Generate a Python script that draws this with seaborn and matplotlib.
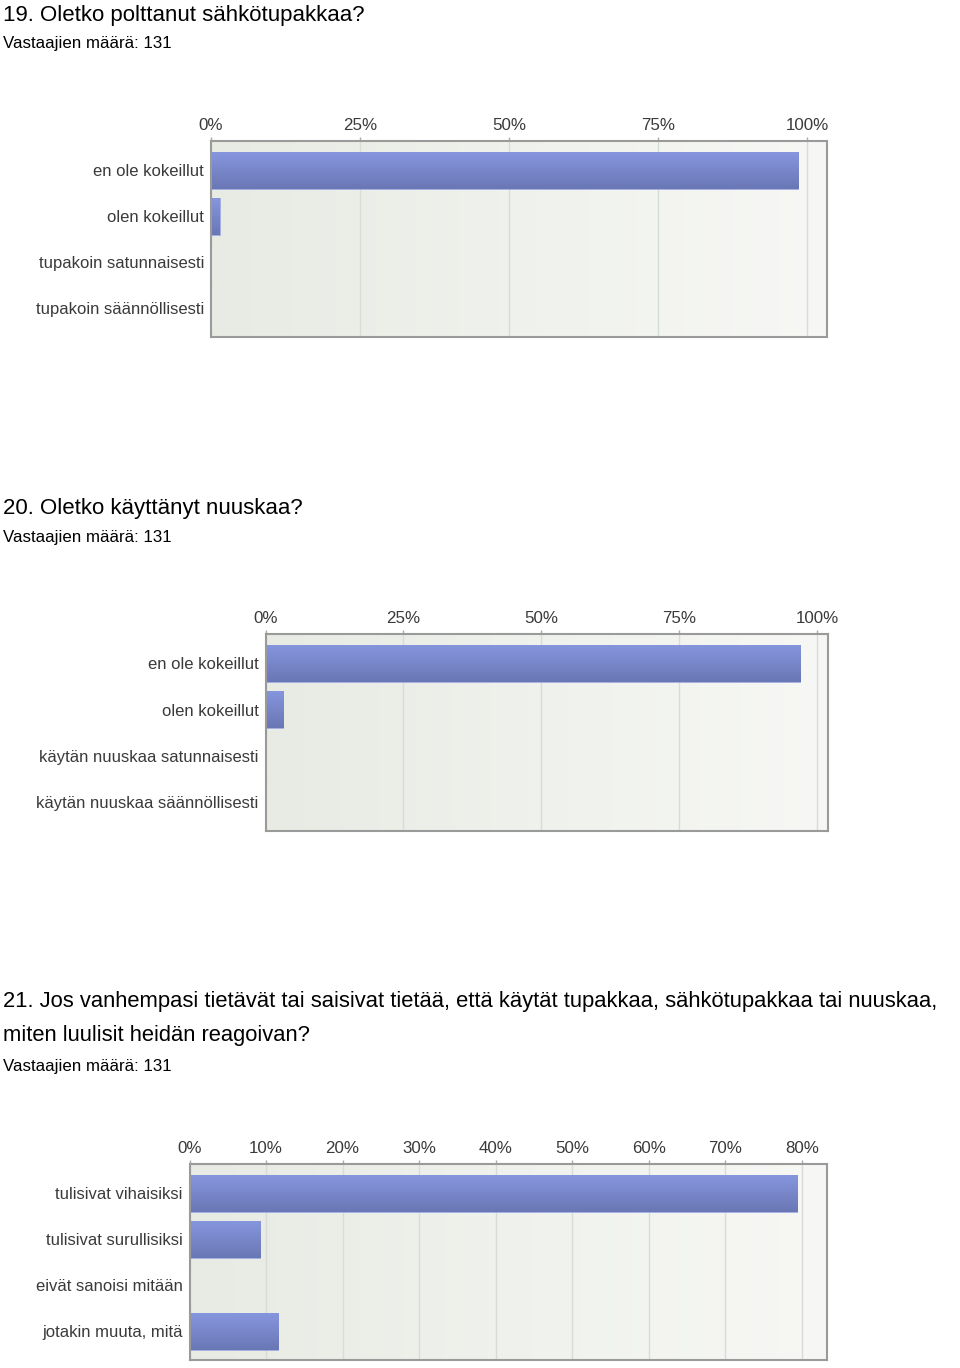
import numpy as np
import pandas as pd
import seaborn as sns
import matplotlib.pyplot as plt
from matplotlib.colors import LinearSegmentedColormap

sns.set_style("white")
plt.rcParams['font.family'] = ['Liberation Sans', 'DejaVu Sans']

#%% data (percent of 131 respondents)
q19_title = "19. Oletko polttanut sähkötupakkaa?"
q19_labels = ["en ole kokeillut", "olen kokeillut", "tupakoin satunnaisesti", "tupakoin säännöllisesti"]
q19_values = [98.5, 1.5, 0.0, 0.0]
q19_ticks = [0, 25, 50, 75, 100]

q20_title = "20. Oletko käyttänyt nuuskaa?"
q20_labels = ["en ole kokeillut", "olen kokeillut", "käytän nuuskaa satunnaisesti", "käytän nuuskaa säännöllisesti"]
q20_values = [96.9, 3.1, 0.0, 0.0]
q20_ticks = [0, 25, 50, 75, 100]

q21_title = ["21. Jos vanhempasi tietävät tai saisivat tietää, että käytät tupakkaa, sähkötupakkaa tai nuuskaa,",
             "miten luulisit heidän reagoivan?"]
q21_labels = ["tulisivat vihaisiksi", "tulisivat surullisiksi", "eivät sanoisi mitään", "jotakin muuta, mitä"]
q21_values = [79.4, 9.2, 0.0, 11.5]
q21_ticks = [0, 10, 20, 30, 40, 50, 60, 70, 80]

subtitle = "Vastaajien määrä: 131"

W, H = 960, 1368
fig = plt.figure(figsize=(W / 100, H / 100), dpi=100)

bg_cmap = LinearSegmentedColormap.from_list("bg", ["#e8ebe4", "#f7f8f5"])
bar_cmap = LinearSegmentedColormap.from_list("bar", ["#8696de", "#6a77b5"])


def px_axes(left, right, top, bottom):
    return fig.add_axes([left / W, 1 - bottom / H, (right - left) / W, (bottom - top) / H])


def draw_chart(ax, labels, values, ticks, xmax):
    df = pd.DataFrame({'label': labels, 'value': values})
    sns.barplot(x='value', y='label', data=df, orient='h', color='#7986c9',
                width=0.8, ax=ax, zorder=3)

    # background gradient
    grad = np.linspace(0, 1, 256).reshape(1, -1)
    ax.imshow(grad, cmap=bg_cmap, aspect='auto', extent=[0, 1, 0, 1],
              transform=ax.transAxes, zorder=0)

    # vertical gradient on bars
    vgrad = np.linspace(0, 1, 64).reshape(-1, 1)
    for p in list(ax.patches):
        if p.get_width() <= 0:
            continue
        x0, y0 = p.get_x(), p.get_y()
        x1, y1 = x0 + p.get_width(), y0 + p.get_height()
        im = ax.imshow(vgrad, cmap=bar_cmap, aspect='auto',
                       extent=[x0, x1, y1, y0], zorder=4)
        im.set_clip_path(p)
        p.set_edgecolor('#a3aee6')
        p.set_linewidth(0.6)
    ax.set_xlim(0, xmax)
    ax.set_ylim(3.62, -0.63)

    ax.set_xticks(ticks)
    ax.set_xticklabels([f"{t}%" for t in ticks])
    ax.xaxis.tick_top()
    ax.tick_params(axis='x', top=True, bottom=False, length=3, width=1,
                   color='#aaaaaa', pad=3, labelsize=12.2, labelcolor='#3a3a3a')
    ax.tick_params(axis='y', left=False, length=0, pad=5, labelsize=12,
                   labelcolor='#3a3a3a')
    ax.grid(axis='x', color='#d9dbd6', linewidth=1, zorder=1)
    ax.set_axisbelow(True)
    for s in ax.spines.values():
        s.set_color('#9a9a9a')
        s.set_linewidth(1.5)
        s.set_zorder(6)
    ax.set_xlabel('')
    ax.set_ylabel('')


def title_line(text, y, size=16):
    fig.text(3 / W, 1 - y / H, text, fontsize=size, color='black',
             ha='left', va='baseline')


#%% 19
title_line(q19_title, 21)
title_line(subtitle, 48, 12.2)
ax1 = px_axes(211, 827, 141, 337)
draw_chart(ax1, q19_labels, q19_values, q19_ticks, 103.3)

#%% 20
title_line(q20_title, 514)
title_line(subtitle, 542, 12.2)
ax2 = px_axes(265.5, 828, 634, 831)
draw_chart(ax2, q20_labels, q20_values, q20_ticks, 102.0)

#%% 21
title_line(q21_title[0], 1007, 15.8)
title_line(q21_title[1], 1041, 15.8)
title_line(subtitle, 1071, 12.2)
ax3 = px_axes(189.5, 827, 1164, 1360)
draw_chart(ax3, q21_labels, q21_values, q21_ticks, 83.3)

plt.savefig('out.png', dpi=100)
